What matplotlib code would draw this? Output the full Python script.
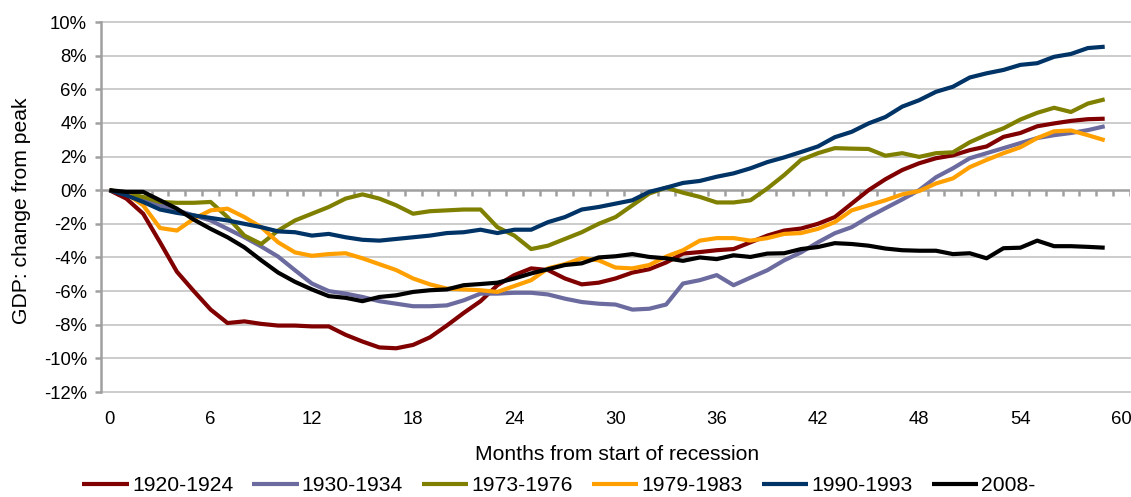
import matplotlib
matplotlib.use("Agg")
import matplotlib.pyplot as plt
import numpy as np

plt.rcParams['font.family'] = ['Liberation Sans', 'DejaVu Sans']

months = list(range(60))

s1920 = [0, -0.5, -1.4, -3.1, -4.85, -6.0, -7.1, -7.9, -7.8, -7.95, -8.05, -8.05, -8.1, -8.1,
         -8.6, -9.0, -9.35, -9.4, -9.2, -8.75, -8.05, -7.3, -6.6, -5.65, -5.05, -4.65, -4.75,
         -5.25, -5.6, -5.5, -5.25, -4.9, -4.7, -4.3, -3.77, -3.68, -3.57, -3.5, -3.1, -2.7,
         -2.4, -2.28, -2.0, -1.6, -0.8, 0.0, 0.65, 1.2, 1.6, 1.9, 2.07, 2.38, 2.6, 3.17, 3.4,
         3.8, 3.97, 4.12, 4.22, 4.25]
s1930 = [0, -0.2, -0.5, -0.9, -1.2, -1.5, -1.8, -2.3, -2.8, -3.35, -3.95, -4.76, -5.55, -6.0,
         -6.15, -6.35, -6.6, -6.75, -6.9, -6.9, -6.85, -6.55, -6.15, -6.15, -6.1, -6.1, -6.2,
         -6.45, -6.65, -6.75, -6.8, -7.1, -7.05, -6.8, -5.55, -5.35, -5.05, -5.65, -5.2, -4.76,
         -4.17, -3.7, -3.1, -2.56, -2.2, -1.6, -1.07, -0.55, 0.0, 0.77, 1.3, 1.9, 2.2, 2.5,
         2.8, 3.1, 3.27, 3.4, 3.57, 3.8]
s1973 = [0, -0.2, -0.4, -0.7, -0.75, -0.75, -0.7, -1.6, -2.7, -3.2, -2.4, -1.8, -1.4, -1.0,
         -0.5, -0.25, -0.5, -0.9, -1.4, -1.25, -1.2, -1.15, -1.15, -2.2, -2.7, -3.5, -3.3,
         -2.9, -2.5, -2.0, -1.6, -0.9, -0.2, 0.15, -0.15, -0.4, -0.73, -0.73, -0.6, 0.1, 0.9,
         1.8, 2.2, 2.5, 2.47, 2.45, 2.05, 2.2, 1.98, 2.2, 2.25, 2.85, 3.3, 3.68, 4.2, 4.6, 4.9,
         4.65, 5.15, 5.4]
s1979 = [0, -0.2, -0.9, -2.25, -2.4, -1.7, -1.2, -1.1, -1.6, -2.2, -3.1, -3.7, -3.9, -3.8,
         -3.75, -4.05, -4.4, -4.75, -5.25, -5.6, -5.85, -5.9, -5.95, -6.05, -5.7, -5.35, -4.65,
         -4.4, -4.05, -4.17, -4.6, -4.65, -4.45, -3.95, -3.57, -3.0, -2.85, -2.85, -3.0, -2.85,
         -2.6, -2.55, -2.3, -1.9, -1.2, -0.9, -0.6, -0.25, -0.05, 0.4, 0.7, 1.37, 1.8, 2.2,
         2.55, 3.1, 3.5, 3.55, 3.27, 2.97]
s1990 = [0, -0.3, -0.7, -1.15, -1.35, -1.5, -1.65, -1.8, -2.0, -2.2, -2.45, -2.5, -2.7, -2.6,
         -2.8, -2.95, -3.0, -2.9, -2.8, -2.7, -2.55, -2.5, -2.35, -2.55, -2.35, -2.35, -1.9,
         -1.6, -1.15, -1.0, -0.8, -0.6, -0.1, 0.15, 0.43, 0.55, 0.8, 1.0, 1.3, 1.67, 1.95,
         2.27, 2.6, 3.15, 3.47, 3.97, 4.35, 4.97, 5.35, 5.85, 6.15, 6.7, 6.95, 7.15, 7.45,
         7.55, 7.93, 8.1, 8.45, 8.53]
s2008 = [0, -0.1, -0.1, -0.6, -1.1, -1.75, -2.3, -2.8, -3.4, -4.17, -4.9, -5.45, -5.9, -6.3,
         -6.4, -6.6, -6.35, -6.25, -6.05, -5.95, -5.9, -5.65, -5.58, -5.5, -5.25, -4.95, -4.7,
         -4.45, -4.35, -4.0, -3.93, -3.8, -3.97, -4.05, -4.2, -4.0, -4.1, -3.87, -3.97, -3.77,
         -3.75, -3.5, -3.38, -3.15, -3.2, -3.3, -3.47, -3.57, -3.6, -3.6, -3.8, -3.75, -4.05,
         -3.45, -3.42, -3.0, -3.33, -3.33, -3.37, -3.42]

series_labels = ['1920-1924', '1930-1934', '1973-1976', '1979-1983', '1990-1993', '2008-']
series_values = [s1920, s1930, s1973, s1979, s1990, s2008]
series_colors = ['#800000', '#6B6B9F', '#808000', '#FFA000', '#003366', '#000000']

y_ticks = list(range(-12, 11, 2))
x_ticks = list(range(0, 61, 6))

W, H = 1131, 497
fig = plt.figure(figsize=(W / 100, H / 100), dpi=100)
ax = fig.add_axes([101 / W, (H - 392) / H, (1130 - 101) / W, (392 - 22) / H])

ax.set_xlim(-0.5, 60.5)
ax.set_ylim(-12, 10)

grid_c = '#C8C8C8'
axis_c = '#A0A0A0'
for v in y_ticks:
    if v != 0:
        ax.axhline(v, color=grid_c, lw=1.3, zorder=1, clip_on=False)

# zero axis line with category tick marks
ax.axhline(0, color=axis_c, lw=1.8, zorder=2)
tick_pos = np.arange(-0.5, 61, 1.0)
ax.vlines(tick_pos, 0, -0.33, color=axis_c, lw=1.8, zorder=2)

for lab, vals, col in zip(series_labels, series_values, series_colors):
    ax.plot(months, vals, color=col, lw=3.0, label=lab, zorder=3,
            solid_joinstyle='round', solid_capstyle='butt')

for sp in ['top', 'right', 'bottom']:
    ax.spines[sp].set_visible(False)
ax.spines['left'].set_color(axis_c)
ax.spines['left'].set_linewidth(1.8)

ax.set_yticks(y_ticks)
ax.set_yticklabels([f"{v}%" for v in y_ticks], fontsize=13.3, color='#000000')
ax.tick_params(axis='y', direction='out', length=4, width=1.8, color=axis_c, pad=6)
ax.set_xticks(x_ticks)
ax.set_xticklabels([str(v) for v in x_ticks], fontsize=13.3)
ax.tick_params(axis='x', length=0, pad=14)

fig.text(617 / W, 1 - 455 / H, 'Months from start of recession', ha='center', va='center',
         fontsize=15.2)
fig.text(22 / W, 1 - 211 / H, 'GDP: change from peak', ha='center', va='center',
         rotation=90, fontsize=15.2)

fig.legend(loc='center', bbox_to_anchor=(559 / W, 1 - 485.5 / H), ncol=6, frameon=False,
           fontsize=15.2, handlelength=2.2, handletextpad=0.15, columnspacing=0.9,
           borderpad=0, borderaxespad=0)

fig.savefig('out.png', dpi=100)
